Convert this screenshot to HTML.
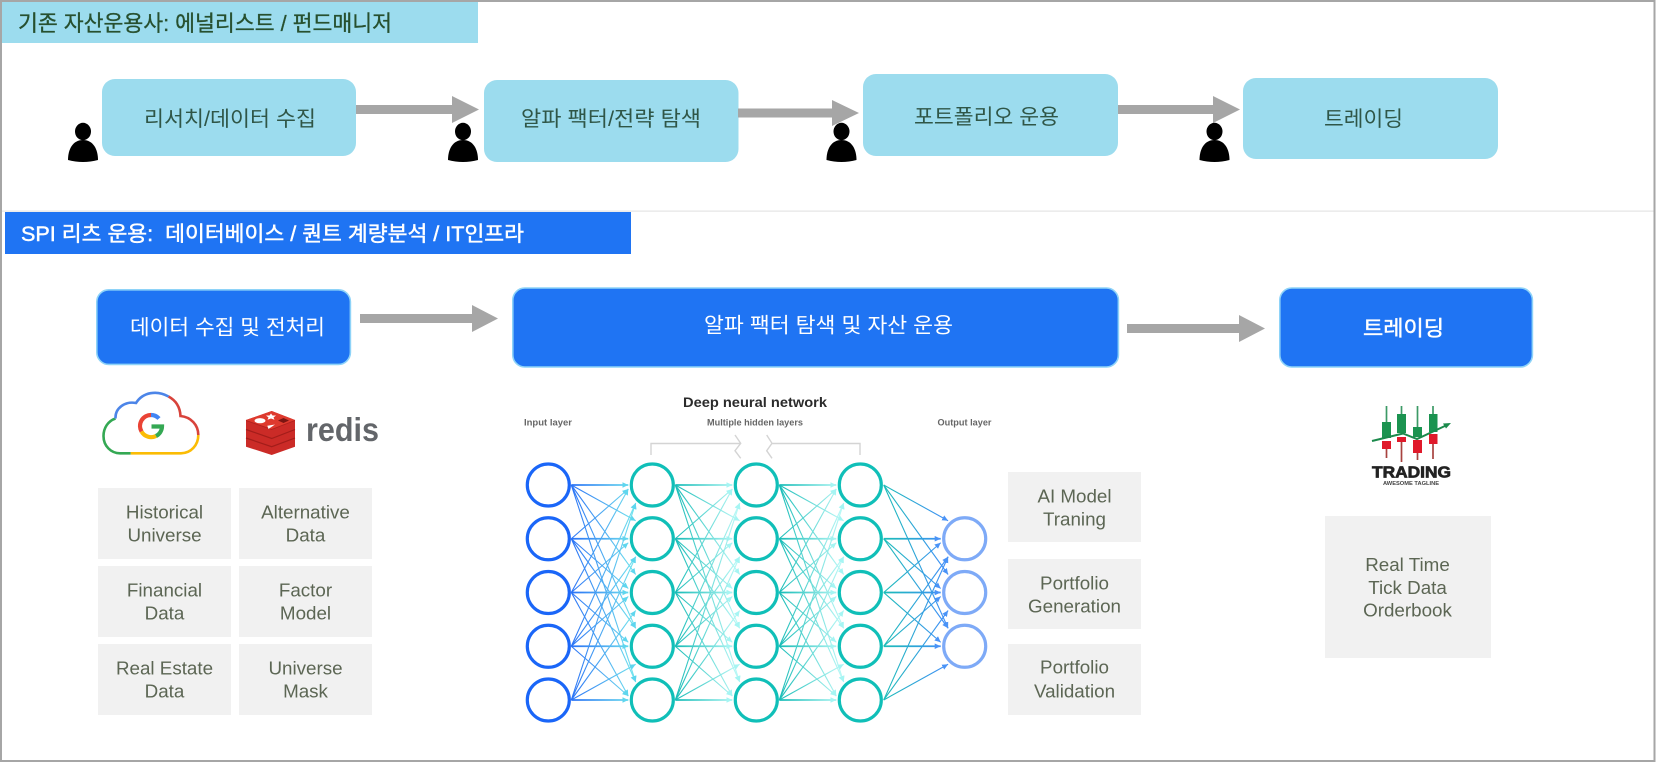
<!DOCTYPE html>
<html lang="ko"><head><meta charset="utf-8"><title>SPI</title>
<style>
html,body{margin:0;padding:0;background:#fff;width:1656px;height:763px;overflow:hidden}
svg{display:block}
.ko{font-family:"Liberation Sans","Noto Sans CJK KR",sans-serif}
.k1{fill:#2f5647;font-size:21px}
.w{fill:#fff;font-size:21px}
.c{font-family:"Liberation Sans",sans-serif;font-size:18.8px;fill:#5c6654;text-anchor:middle}
.n{font-family:"Liberation Sans",sans-serif;font-size:9px;font-weight:bold;fill:#666}
.net line{fill:none}
</style></head><body>
<svg xmlns="http://www.w3.org/2000/svg" width="1656" height="763" viewBox="0 0 1656 763">
<defs>
<linearGradient id="g1" gradientUnits="userSpaceOnUse" x1="23" y1="0" x2="85" y2="0"><stop offset="0" stop-color="#2a72f6"/><stop offset="1" stop-color="#70e2ee"/></linearGradient>
<linearGradient id="g2" gradientUnits="userSpaceOnUse" x1="23" y1="0" x2="85" y2="0"><stop offset="0" stop-color="#17bcb7"/><stop offset="1" stop-color="#b8f8f6"/></linearGradient>
<linearGradient id="g3" gradientUnits="userSpaceOnUse" x1="23" y1="0" x2="85" y2="0"><stop offset="0" stop-color="#1cbdb8"/><stop offset="1" stop-color="#3f8ef7"/></linearGradient>
<marker id="m1" markerUnits="userSpaceOnUse" markerWidth="7" markerHeight="6" refX="6" refY="3" orient="auto"><path d="M0 .2L6 3L0 5.8z" fill="#5fd6ee"/></marker>
<marker id="m2" markerUnits="userSpaceOnUse" markerWidth="7" markerHeight="6" refX="6" refY="3" orient="auto"><path d="M0 .2L6 3L0 5.8z" fill="#a6f5f3"/></marker>
<marker id="m3" markerUnits="userSpaceOnUse" markerWidth="7" markerHeight="6" refX="6" refY="3" orient="auto"><path d="M0 .2L6 3L0 5.8z" fill="#4a93f7"/></marker>
<g id="person"><ellipse cx="0" cy="131.5" rx="8" ry="8.7"/><path d="M-15 160C-15 149-10 140 0 140C10 140 15 149 15 160Q0 164-15 160z"/></g>
<g id="full">
<line x1="23" y1="485" x2="80" y2="485" stroke-width="1.7"/><line x1="23" y1="485" x2="87.4" y2="520.75"/><line x1="23" y1="485" x2="87.4" y2="574.5"/><line x1="23" y1="485" x2="87.4" y2="628.25"/><line x1="23" y1="485" x2="87.4" y2="682"/>
<line x1="23" y1="538.75" x2="80" y2="489"/><line x1="23" y1="538.75" x2="80" y2="538.75" stroke-width="1.7"/><line x1="23" y1="538.75" x2="80" y2="588.5"/><line x1="23" y1="538.75" x2="87.4" y2="628.25"/><line x1="23" y1="538.75" x2="87.4" y2="682"/>
<line x1="23" y1="592.5" x2="80" y2="489"/><line x1="23" y1="592.5" x2="80" y2="542.75"/><line x1="23" y1="592.5" x2="80" y2="592.5" stroke-width="1.7"/><line x1="23" y1="592.5" x2="80" y2="642.25"/><line x1="23" y1="592.5" x2="80" y2="696"/>
<line x1="23" y1="646.25" x2="87.4" y2="503"/><line x1="23" y1="646.25" x2="87.4" y2="556.75"/><line x1="23" y1="646.25" x2="80" y2="596.5"/><line x1="23" y1="646.25" x2="80" y2="646.25" stroke-width="1.7"/><line x1="23" y1="646.25" x2="80" y2="696"/>
<line x1="23" y1="700" x2="87.4" y2="503"/><line x1="23" y1="700" x2="87.4" y2="556.75"/><line x1="23" y1="700" x2="87.4" y2="610.5"/><line x1="23" y1="700" x2="87.4" y2="664.25"/><line x1="23" y1="700" x2="80" y2="700" stroke-width="1.7"/>
</g>
<g id="outl">
<line x1="23" y1="485" x2="87.4" y2="520.75"/><line x1="23" y1="485" x2="87.4" y2="574.5"/><line x1="23" y1="485" x2="87.4" y2="628.25"/>
<line x1="23" y1="538.75" x2="80" y2="538.75" stroke-width="1.7"/><line x1="23" y1="538.75" x2="80" y2="588.5"/><line x1="23" y1="538.75" x2="87.4" y2="628.25"/>
<line x1="23" y1="592.5" x2="80" y2="542.75"/><line x1="23" y1="592.5" x2="80" y2="592.5" stroke-width="1.7"/><line x1="23" y1="592.5" x2="80" y2="642.25"/>
<line x1="23" y1="646.25" x2="87.4" y2="556.75"/><line x1="23" y1="646.25" x2="80" y2="596.5"/><line x1="23" y1="646.25" x2="80" y2="646.25" stroke-width="1.7"/>
<line x1="23" y1="700" x2="87.4" y2="556.75"/><line x1="23" y1="700" x2="87.4" y2="610.5"/><line x1="23" y1="700" x2="87.4" y2="664.25"/>
</g>
<g id="col5" fill="#fff" stroke-width="3.2"><circle cx="0" cy="485" r="21"/><circle cx="0" cy="538.75" r="21"/><circle cx="0" cy="592.5" r="21"/><circle cx="0" cy="646.25" r="21"/><circle cx="0" cy="700" r="21"/></g>
</defs>

<rect width="1656" height="763" fill="#fff"/>
<!-- divider -->
<rect x="2" y="210.5" width="1652" height="1.2" fill="#e4e4e4"/>

<!-- top section -->
<rect x="2" y="2" width="476" height="41" fill="#9cdcee"/>
<text class="ko" x="18" y="31" font-size="22" fill="#27502f" stroke="#27502f" stroke-width=".3" textLength="374" lengthAdjust="spacingAndGlyphs">기존 자산운용사: 에널리스트 / 펀드매니저</text>

<g fill="#9cdcee">
<rect x="102" y="79" width="254" height="77" rx="13"/>
<rect x="484" y="80" width="254.5" height="82" rx="13"/>
<rect x="863" y="74" width="255" height="82" rx="13"/>
<rect x="1243" y="78" width="255" height="81" rx="13"/>
</g>
<text class="ko k1" x="144" y="126" textLength="172" lengthAdjust="spacingAndGlyphs">리서치/데이터 수집</text>
<text class="ko k1" x="521" y="126" textLength="180" lengthAdjust="spacingAndGlyphs">알파 팩터/전략 탐색</text>
<text class="ko k1" x="914" y="124" textLength="145" lengthAdjust="spacingAndGlyphs">포트폴리오 운용</text>
<text class="ko k1" x="1324" y="126" textLength="79" lengthAdjust="spacingAndGlyphs">트레이딩</text>

<g fill="#a6a6a6">
<path d="M356 105H452V96L479 109.5L452 123V114H356z"/>
<path d="M738 108.5H832V100L859 113L832 126V117.5H738z"/>
<path d="M1118 105H1213V96L1240 109.5L1213 123V114H1118z"/>
<path d="M360 314H472V305L498 318.5L472 332V323H360z"/>
<path d="M1127 324H1239V315L1265 328.5L1239 342V333H1127z"/>
</g>
<use href="#person" transform="translate(83 0)"/>
<use href="#person" transform="translate(463 0)"/>
<use href="#person" transform="translate(841.5 0)"/>
<use href="#person" transform="translate(1214.5 0)"/>

<!-- second section -->
<rect x="5" y="212" width="626" height="42" fill="#1f74f3"/>
<text class="ko" x="21" y="241" font-size="21" fill="#fff" stroke="#fff" stroke-width=".45" textLength="503" lengthAdjust="spacingAndGlyphs" xml:space="preserve">SPI 리츠 운용:  데이터베이스 / 퀀트 계량분석 / IT인프라</text>

<g fill="#1f74f3" stroke="#8ed3f8" stroke-width="1.6">
<rect x="96.8" y="289.8" width="253.6" height="74.6" rx="12"/>
<rect x="512.8" y="288" width="605.6" height="79" rx="12"/>
<rect x="1279.8" y="288" width="252.6" height="79" rx="12"/>
</g>
<text class="ko w" x="130" y="334.5" textLength="195" lengthAdjust="spacingAndGlyphs">데이터 수집 및 전처리</text>
<text class="ko w" x="704" y="332.5" textLength="249" lengthAdjust="spacingAndGlyphs">알파 팩터 탐색 및 자산 운용</text>
<text class="ko w" x="1363" y="335.5" stroke="#fff" stroke-width=".45" textLength="81" lengthAdjust="spacingAndGlyphs">트레이딩</text>

<!-- google cloud -->
<g fill="none" stroke-width="2.6" stroke-linecap="butt">
<path stroke="#34a853" d="M115.5 418.5C108 421 103.5 428 103.5 436C103.5 446 111 453.3 120 453.3L130.7 453.3"/>
<path stroke="#fbbc05" d="M130.7 453.3L181 453.3C191 453.3 198.3 445 198.3 435"/>
<path stroke="#d8433b" d="M198.3 435C198.3 425 191 417 180.5 416C180 406 175 400 168.5 396.5"/>
<path stroke="#4c85e8" d="M168.5 396.5C157 390 143 392 136 403C125 401 115 408 115.5 418.5"/>
</g>
<g fill="none" stroke-width="4.2">
<path stroke="#ea4335" d="M141.5 431.5A11 11 0 0 1 151 415"/>
<path stroke="#4285f4" d="M151 415A11 11 0 0 1 159 418.5"/>
<path stroke="#fbbc05" d="M141.5 431.5A11 11 0 0 0 156 436"/>
<path stroke="#34a853" d="M156 436A11 11 0 0 0 162 426.5H151.5"/>
</g>

<!-- redis -->
<path fill="#cb2b27" d="M246 420L271.700 411L295 420V446.700L271.700 455L246 446.700z"/>
<path fill="#de3a2e" d="M246 420L271.700 411L295 420L271.700 429z"/>
<path fill="none" stroke="#a31d1a" stroke-width="1.200" d="M246 429.500L271.700 438.500L295 429.500M246 438L271.700 446.700L295 438"/>
<path fill="none" stroke="#b0221e" stroke-width=".8" d="M246 420.500L271.700 429.500L295 420.500"/>
<ellipse cx="260" cy="420.700" rx="5.500" ry="2.600" fill="#fff"/>
<path fill="#fff" d="M271 413.500L272.500 415.500L276 415.500L273.500 417.500L274.500 419.800L271 418.500L267.500 419.800L268.500 417.500L266 415.500L269.500 415.500z"/>
<path fill="#fff" d="M267.300 425.700L275 424.500L268.500 429z"/>
<path fill="#7a1512" d="M278 420.500L283.500 418L289 420.500L283.500 423z"/>
<text x="306" y="441" font-family="Liberation Sans,sans-serif" font-size="33" font-weight="bold" fill="#63666a" textLength="73" lengthAdjust="spacingAndGlyphs">redis</text>

<!-- grey cells -->
<g fill="#f1f1f1">
<rect x="98" y="488" width="133" height="71"/><rect x="239" y="488" width="133" height="71"/>
<rect x="98" y="566" width="133" height="71"/><rect x="239" y="566" width="133" height="71"/>
<rect x="98" y="644" width="133" height="71"/><rect x="239" y="644" width="133" height="71"/>
<rect x="1008" y="472" width="133" height="70"/><rect x="1008" y="559" width="133" height="70"/><rect x="1008" y="644" width="133" height="71"/>
<rect x="1325" y="516" width="166" height="142"/>
</g>
<g class="c">
<text class="c" x="164.5" y="518.5">Historical</text><text class="c" x="164.5" y="541.5">Universe</text>
<text class="c" x="305.5" y="518.5">Alternative</text><text class="c" x="305.5" y="541.5">Data</text>
<text class="c" x="164.5" y="596.5">Financial</text><text class="c" x="164.5" y="619.5">Data</text>
<text class="c" x="305.5" y="596.5">Factor</text><text class="c" x="305.5" y="619.5">Model</text>
<text class="c" x="164.5" y="674.5">Real Estate</text><text class="c" x="164.5" y="697.5">Data</text>
<text class="c" x="305.5" y="674.5">Universe</text><text class="c" x="305.5" y="697.5">Mask</text>
<text class="c" x="1074.5" y="502.5">AI Model</text><text class="c" x="1074.5" y="525.5">Traning</text>
<text class="c" x="1074.5" y="589.5">Portfolio</text><text class="c" x="1074.5" y="612.5">Generation</text>
<text class="c" x="1074.5" y="673.5">Portfolio</text><text class="c" x="1074.5" y="697.5">Validation</text>
<text class="c" x="1407.5" y="571">Real Time</text><text class="c" x="1407.5" y="594">Tick Data</text><text class="c" x="1407.5" y="616.5">Orderbook</text>
</g>

<!-- neural network -->
<text x="683" y="407" font-family="Liberation Sans,sans-serif" font-size="14" font-weight="bold" fill="#2b2b2b" textLength="144" lengthAdjust="spacingAndGlyphs">Deep neural network</text>
<text class="n" x="524" y="425.5" textLength="48" lengthAdjust="spacingAndGlyphs">Input layer</text>
<text class="n" x="707" y="425.5" textLength="96" lengthAdjust="spacingAndGlyphs">Multiple hidden layers</text>
<text class="n" x="937.5" y="425.5" textLength="54" lengthAdjust="spacingAndGlyphs">Output layer</text>
<path fill="none" stroke="#d4d4d4" stroke-width="1.4" d="M651 455V443.5H740.7M735 435L740.7 443.3L735 450.7L740.7 458.3M766.7 435L772 443.3L766.7 450.7L772 458.3M772 443.5H860V455"/>

<g class="net" stroke-width="1.1">
<use href="#full" transform="translate(548.3 0)" stroke="url(#g1)" marker-end="url(#m1)"/>
<use href="#full" transform="translate(652.3 0)" stroke="url(#g2)" marker-end="url(#m2)"/>
<use href="#full" transform="translate(756.3 0)" stroke="url(#g2)" marker-end="url(#m2)"/>
<use href="#outl" transform="translate(860.7 0)" stroke="url(#g3)" marker-end="url(#m3)"/>
</g>
<use href="#col5" transform="translate(548.3 0)" stroke="#1a66f8"/>
<use href="#col5" transform="translate(652.3 0)" stroke="#10bfb8"/>
<use href="#col5" transform="translate(756.3 0)" stroke="#10bfb8"/>
<use href="#col5" transform="translate(860.3 0)" stroke="#10bfb8"/>
<g fill="#fff" stroke="#7eaaf7" stroke-width="3.2"><circle cx="964.7" cy="538.75" r="21"/><circle cx="964.7" cy="592.5" r="21"/><circle cx="964.7" cy="646.25" r="21"/></g>

<!-- trading logo -->
<g stroke="#3d9a66" stroke-width="1.7">
<line x1="1386.5" y1="406" x2="1386.5" y2="424"/><line x1="1401.5" y1="406" x2="1401.5" y2="416"/><line x1="1417.5" y1="406" x2="1417.5" y2="429"/><line x1="1433" y1="406" x2="1433" y2="416"/>
</g>
<g fill="#1b9350">
<rect x="1382" y="422" width="9" height="16"/><rect x="1397" y="414" width="9" height="19"/><rect x="1413" y="427" width="9" height="10"/><rect x="1429" y="414" width="8.500" height="18"/>
</g>
<path fill="none" stroke="#1b8a4c" stroke-width="2" d="M1372 441L1403 433.5L1417 439L1447 425"/>
<path fill="#1b8a4c" d="M1451 423L1443 423.5L1446 428.500z"/>
<g stroke="#a8433f" stroke-width="1.7">
<line x1="1386.500" y1="445" x2="1386.500" y2="458"/><line x1="1401.500" y1="440" x2="1401.500" y2="462"/><line x1="1417.500" y1="450" x2="1417.500" y2="460"/><line x1="1433" y1="440" x2="1433" y2="459"/>
</g>
<g fill="#e01a2b">
<rect x="1382" y="441" width="9" height="8"/><rect x="1397" y="437" width="9" height="5"/><rect x="1413" y="440" width="9" height="13"/><rect x="1429" y="434" width="8.500" height="10"/>
</g>
<text x="1372" y="477.500" font-family="Liberation Sans,sans-serif" font-size="15.500" font-weight="bold" fill="#222" stroke="#222" stroke-width=".7" textLength="79" lengthAdjust="spacingAndGlyphs">TRADING</text>
<text x="1383" y="485" font-family="Liberation Sans,sans-serif" font-size="5.500" font-weight="bold" fill="#444" textLength="56" lengthAdjust="spacingAndGlyphs">AWESOME TAGLINE</text>

<!-- frame -->
<rect x="1" y="1" width="1653.500" height="760" fill="none" stroke="#a6a6a6" stroke-width="2"/>
</svg>
</body></html>
